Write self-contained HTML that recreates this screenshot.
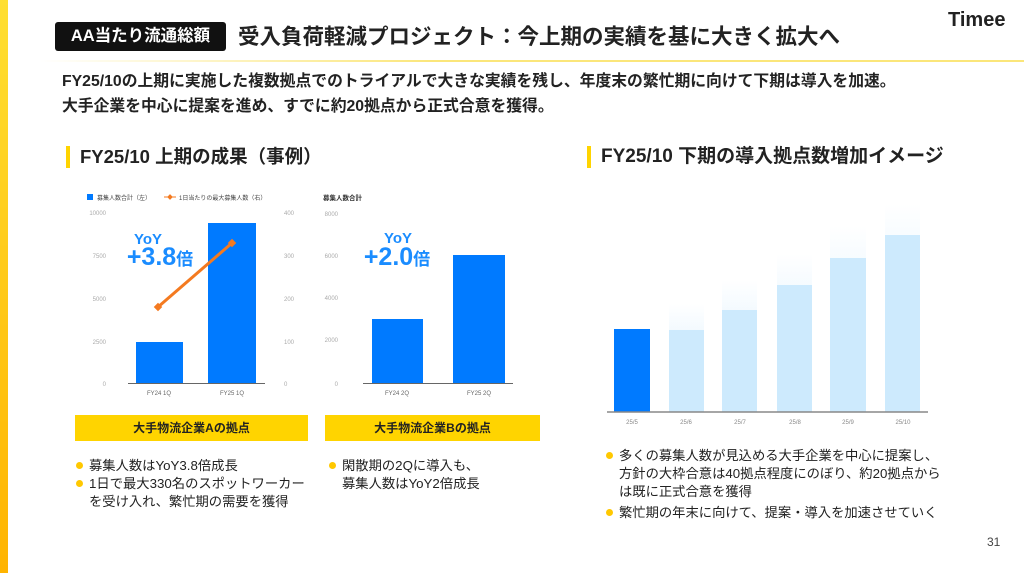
<!DOCTYPE html>
<html><head><meta charset="utf-8"><style>
*{margin:0;padding:0;box-sizing:border-box}
body{width:1024px;height:573px;position:relative;background:#fff;overflow:hidden;font-family:"Liberation Sans","Noto Sans CJK JP",sans-serif;color:#222}
.a{position:absolute;white-space:nowrap}
.yb{position:absolute;background:#ffd400;font-weight:bold;font-size:12px;text-align:center;line-height:26px}
.bl{position:absolute;line-height:18px}
.bl .d{position:absolute;width:7px;height:7px;border-radius:50%;background:#ffc800;left:-13px;top:5px}
</style></head><body>
<div class="a" style="left:0;top:0;width:8px;height:573px;background:linear-gradient(#ffdf30,#ffb400)"></div>
<div class="a" style="left:55px;top:22px;width:171px;height:29px;background:#111;border-radius:3px;color:#fff;font-weight:bold;font-size:16.5px;line-height:29px;text-align:center">AA当たり流通総額</div>
<div class="a" style="left:238px;top:22px;font-size:21.5px;font-weight:bold;line-height:30px">受入負荷軽減プロジェクト：今上期の実績を基に大きく拡大へ</div>
<div class="a" style="left:948px;top:9px;font-size:20px;font-weight:bold">Timee</div>
<div class="a" style="left:40px;top:60px;width:984px;height:2px;background:linear-gradient(90deg,#fff,#fbe67a 40%,#fbe67a)"></div>
<div class="a" style="left:62px;top:69px;font-size:15.8px;font-weight:bold;line-height:25px">FY25/10の上期に実施した複数拠点でのトライアルで大きな実績を残し、年度末の繁忙期に向けて下期は導入を加速。<br>大手企業を中心に提案を進め、すでに約20拠点から正式合意を獲得。</div>
<div class="a" style="left:66px;top:146px;width:4px;height:22px;background:#ffd400"></div>
<div class="a" style="left:80px;top:144px;font-size:18.5px;font-weight:bold;line-height:25px">FY25/10 上期の成果（事例）</div>
<div class="a" style="left:587px;top:146px;width:4px;height:22px;background:#ffd400"></div>
<div class="a" style="left:601px;top:144px;font-size:19px;font-weight:bold;line-height:25px">FY25/10 下期の導入拠点数増加イメージ</div>
<svg class="a" style="left:0;top:0" width="1024" height="573" font-family="Liberation Sans, Noto Sans CJK JP, sans-serif">
<defs><linearGradient id="g" x1="0" y1="0" x2="0" y2="1"><stop offset="0" stop-color="#cdeafd" stop-opacity="0"/><stop offset="1" stop-color="#cdeafd"/></linearGradient></defs>
<g font-size="6" fill="#aaa" text-anchor="end">
<text x="106" y="215">10000</text><text x="106" y="258">7500</text><text x="106" y="301">5000</text><text x="106" y="344">2500</text><text x="106" y="386">0</text></g>
<g font-size="6" fill="#aaa"><text x="284" y="215">400</text><text x="284" y="258">300</text><text x="284" y="301">200</text><text x="284" y="344">100</text><text x="284" y="386">0</text></g>
<rect x="136" y="342" width="47" height="41" fill="#007aff"/><rect x="208" y="223" width="48" height="160" fill="#007aff"/>
<line x1="128" y1="383.5" x2="265" y2="383.5" stroke="#666"/>
<line x1="158" y1="307" x2="232" y2="243" stroke="#f47a20" stroke-width="3"/>
<rect x="155" y="304" width="6" height="6" fill="#f47a20" transform="rotate(45 158 307)"/><rect x="229" y="240" width="6" height="6" fill="#f47a20" transform="rotate(45 232 243)"/>
<g font-size="6" fill="#666" text-anchor="middle"><text x="159" y="395">FY24 1Q</text><text x="232" y="395">FY25 1Q</text></g>
<rect x="87" y="194" width="6" height="6" fill="#007aff"/><text x="97" y="200" font-size="6" fill="#444">募集人数合計（左）</text>
<line x1="164" y1="197" x2="176" y2="197" stroke="#f47a20"/><rect x="168" y="195" width="4" height="4" fill="#f47a20" transform="rotate(45 170 197)"/><text x="179" y="200" font-size="6" fill="#444">1日当たりの最大募集人数（右）</text>
<g fill="#1a8cff" font-weight="bold" text-anchor="middle"><text x="148" y="244" font-size="15">YoY</text><text x="160" y="265" font-size="25">+3.8<tspan font-size="17">倍</tspan></text></g>
<text x="323" y="200" font-size="6.5" font-weight="bold" fill="#333">募集人数合計</text>
<g font-size="6" fill="#aaa" text-anchor="end"><text x="338" y="216">8000</text><text x="338" y="258">6000</text><text x="338" y="300">4000</text><text x="338" y="342">2000</text><text x="338" y="386">0</text></g>
<rect x="372" y="319" width="51" height="64" fill="#007aff"/><rect x="453" y="255" width="52" height="128" fill="#007aff"/>
<line x1="363" y1="383.5" x2="513" y2="383.5" stroke="#666"/>
<g font-size="6" fill="#666" text-anchor="middle"><text x="397" y="395">FY24 2Q</text><text x="479" y="395">FY25 2Q</text></g>
<g fill="#1a8cff" font-weight="bold" text-anchor="middle"><text x="398" y="243" font-size="15">YoY</text><text x="397" y="265" font-size="25">+2.0<tspan font-size="17">倍</tspan></text></g>
<rect x="614" y="329" width="36" height="83" fill="#007aff"/>
<rect x="669" y="304" width="35" height="108" fill="url(#g)"/><rect x="669" y="330" width="35" height="82" fill="#cdeafd"/>
<rect x="722" y="280" width="35" height="132" fill="url(#g)"/><rect x="722" y="310" width="35" height="102" fill="#cdeafd"/>
<rect x="777" y="254" width="35" height="158" fill="url(#g)"/><rect x="777" y="285" width="35" height="127" fill="#cdeafd"/>
<rect x="830" y="226" width="36" height="186" fill="url(#g)"/><rect x="830" y="258" width="36" height="154" fill="#cdeafd"/>
<rect x="885" y="204" width="35" height="208" fill="url(#g)"/><rect x="885" y="235" width="35" height="177" fill="#cdeafd"/>
<line x1="607" y1="412" x2="928" y2="412" stroke="#888" stroke-width="1.5"/>
<g font-size="6" fill="#888" text-anchor="middle"><text x="632" y="424">25/5</text><text x="686" y="424">25/6</text><text x="740" y="424">25/7</text><text x="795" y="424">25/8</text><text x="848" y="424">25/9</text><text x="903" y="424">25/10</text></g>
</svg>
<div class="yb" style="left:75px;top:415px;width:233px">大手物流企業Aの拠点</div>
<div class="yb" style="left:325px;top:415px;width:215px">大手物流企業Bの拠点</div>
<div class="bl" style="left:89px;top:457px;font-size:13.3px">
<div style="position:relative"><span class="d"></span>募集人数はYoY3.8倍成長</div>
<div style="position:relative"><span class="d"></span>1日で最大330名のスポットワーカー<br>を受け入れ、繁忙期の需要を獲得</div></div>
<div class="bl" style="left:342px;top:457px;font-size:13.3px">
<div style="position:relative"><span class="d"></span>閑散期の2Qに導入も、<br>募集人数はYoY2倍成長</div></div>
<div class="bl" style="left:619px;top:447px;font-size:13.3px">
<div style="position:relative;margin-bottom:3px"><span class="d"></span>多くの募集人数が見込める大手企業を中心に提案し、<br>方針の大枠合意は40拠点程度にのぼり、約20拠点から<br>は既に正式合意を獲得</div>
<div style="position:relative"><span class="d"></span>繁忙期の年末に向けて、提案・導入を加速させていく</div></div>
<div class="a" style="left:987px;top:535px;font-size:12px;color:#444">31</div>
</body></html>
